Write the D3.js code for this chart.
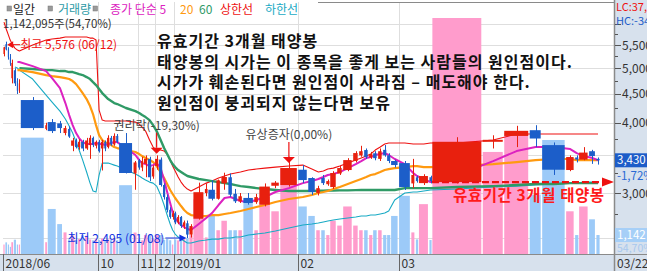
<!DOCTYPE html>
<html><head><meta charset="utf-8">
<script src="https://cdn.jsdelivr.net/npm/d3@7/dist/d3.min.js"></script>
<style>html,body{margin:0;padding:0;background:#fff;overflow:hidden}svg{display:block}</style>
</head><body>
<svg id="chart" width="647" height="271"></svg>
<script>
// ---------- data (estimated) ----------
const dates = ["2018-06-11","2018-06-12","2018-06-14","2018-06-15","2018-06-18","2018-06-19","2018-06-20","2018-06-21","2018-06-22","2018-06-25",
"2018-06-26","2018-06-27","2018-06-28","2018-06-29","2018-07-02","2018-07-03","2018-07-04","2018-07-05","2018-07-06","2018-07-09",
"2018-07-10","2018-07-11","2018-10-01","2018-10-02","2018-10-04","2018-10-05","2018-10-08","2018-10-10","2018-10-11","2018-10-12",
"2018-10-15","2018-11-01","2018-11-05","2018-11-12","2018-11-19","2018-11-26","2018-12-03","2018-12-10","2018-12-14","2018-12-18",
"2018-12-21","2018-12-27","2019-01-02","2019-01-03","2019-01-04","2019-01-07","2019-01-08","2019-01-09","2019-01-10","2019-01-11",
"2019-01-14","2019-01-15","2019-01-16","2019-01-17","2019-01-18","2019-01-21","2019-01-22","2019-01-23","2019-01-24","2019-01-25",
"2019-01-28","2019-02-01","2019-02-07","2019-02-08","2019-02-11","2019-02-12","2019-02-13","2019-02-14","2019-02-15","2019-02-18",
"2019-02-19","2019-02-20","2019-02-21","2019-02-22","2019-02-25","2019-02-26","2019-02-27","2019-02-28","2019-03-04","2019-03-05",
"2019-03-06","2019-03-07","2019-03-08","2019-03-11","2019-03-12","2019-03-13","2019-03-14","2019-03-15","2019-03-18","2019-03-19",
"2019-03-20","2019-03-21","2019-03-22"];
const open  = [5300,5520,5400,5230,4800,4960,4750,4560,4390,3900,4011,3990,3835,3900,3640,3720,3620,3700,3600,3650,3760,3640,3700,3600,3700,3620,3760,3660,3790,3681,
3250,3430,3330,3380,3450,3210,3350,3440,3100,2950,2800,2720,2760,2660,2720,2620,2650,2530,2700,3000,3040,2930,3120,3200,2990,2900,2940,2890,2860,3090,
3099,3300,3190,3000,3190,3110,3074,3250,3296,3420,3500,3577,3470,3530,3450,3580,3500,3420,3391,3120,3200,3124,3200,3137,3700,3790,3880,3650,3296,3470,3440,3560,3450];
const high  = [5460,5576,5450,5300,5180,5000,4800,4780,4444,4000,4061,4030,3950,3940,3760,3750,3740,3730,3760,3800,3780,3720,3730,3730,3720,3800,3790,3830,3820,3835,
3420,3450,3480,3500,3480,3360,3500,3470,3120,2980,2830,2790,2780,2740,2730,2680,2680,2640,3130,3120,3160,3170,3260,3250,3050,3000,3000,2990,3120,3150,
3480,3364,3200,3090,3230,3170,3280,3350,3460,3560,3640,3600,3550,3560,3600,3651,3530,3440,3420,3450,3220,3240,3220,3770,3800,3950,3960,3690,3500,3500,3620,3580,3470];
const low   = [5250,5380,5180,5050,4700,4650,4500,4520,3882,3880,3835,3835,3800,3760,3560,3600,3580,3560,3580,3450,3620,3600,3540,3290,3560,3600,3640,3640,3680,3250,
3040,3300,3280,3200,3150,3180,3300,3080,2920,2770,2700,2690,2640,2640,2600,2590,2495,2500,2690,2960,2910,2920,3040,2950,2880,2880,2860,2870,2840,3060,
3080,3124,2976,2970,3100,3090,3050,3230,3280,3400,3480,3450,3450,3430,3420,3480,3390,3330,3037,3060,3130,3100,3120,3120,3600,3620,3620,3230,3280,3400,3430,3380,3370];
const close = [5450,5400,5230,5100,5110,4700,4560,4700,3914,3960,3866,3914,3914,3780,3720,3620,3700,3600,3720,3760,3650,3700,3560,3700,3600,3760,3660,3790,3700,3256,
3400,3330,3420,3450,3200,3330,3450,3100,2950,2800,2720,2760,2660,2720,2620,2660,2530,2620,3010,3050,2930,3160,3203,2980,2900,2960,2880,2950,3080,3130,
3323,3163,3012,3060,3124,3150,3256,3323,3433,3533,3560,3476,3520,3460,3560,3500,3420,3364,3074,3230,3150,3216,3150,3700,3730,3870,3750,3300,3476,3440,3540,3490,3430];
const volume = [570000,700000,570000,430000,710000,860000,570000,570000,7000000,710000,2710000,1800000,1300000,880000,1120000,830000,900000,1150000,1100000,870000,
820000,910000,850000,930000,800000,880000,840000,900000,830000,4140000,1290000,870000,820000,1140000,1140000,890000,1140000,1140000,850000,900000,
830000,570000,880000,820000,860000,900000,950000,1140000,3290000,1000000,2290000,1430000,2000000,1430000,1430000,1430000,3140000,1430000,3430000,2570000,
5140000,2860000,2290000,1430000,1430000,1140000,2000000,1710000,2860000,1710000,1430000,1430000,1140000,1430000,1430000,1140000,1140000,2290000,3500000,1300000,
880000,3000000,840000,14430000,6140000,7290000,3570000,6860000,2570000,1140000,2860000,2087900,1142095];
const ma5 = [null,null,null,null,null,null,5129,5129,5045,4943,4803,4611,4336,4128,3962,3835,3757,3696,3666,3666,3666,3681,3666,3666,3651,3666,3681,3696,3696,3606,
3505,3433,3391,3377,3350,3363,3391,3322,3163,3012,2879,2775,2708,2664,2632,2610,2589,2578,2642,2708,2764,2856,2939,2951,2927,2903,2891,2915,2951,3012,
3061,3124,3150,3177,3203,3229,3242,3269,3322,3377,3419,3462,3476,3505,3519,3533,3505,3448,3377,3256,3216,3177,3137,3229,3419,3562,3621,3621,3591,3533,3490,3462,3433];
const ma20 = [null,null,null,null,null,null,4963,4963,4923,4863,4843,4823,4803,4784,4745,4687,4611,4517,4408,4283,4145,3962,3803,3726,3696,3666,3651,3621,3606,3577,
3548,3519,3490,3462,3433,3405,3350,3269,3190,3112,3037,2988,2939,2891,2844,2798,2764,2741,2730,2730,2741,2741,2753,2764,2775,2787,2810,2833,2856,2891,
2927,2951,2976,3000,3012,3025,3049,3074,3112,3150,3177,3203,3229,3242,3269,3296,3309,3322,3336,3350,3350,3336,3336,3350,3377,3405,3433,3448,3448,3433,3433,3433,3433];
const ma60 = [null,null,null,null,null,null,null,5004,4984,4963,4963,4943,4943,4923,4923,4902,4882,4863,4823,4784,4725,4668,4592,4517,4462,4408,4372,4336,4319,4249,
4196,4162,4128,4094,4044,3962,3866,3726,3606,3519,3433,3377,3336,3296,3269,3242,3216,3203,3177,3163,3150,3137,3124,3112,3099,3086,3074,3061,3049,3037,
3025,3025,3025,3028,3028,3030,3030,3032,3033,3035,3037,3037,3037,3037,3037,3037,3037,3037,3061,3061,3061,3061,3061,3074,3086,3099,3112,3112,3124,3124,3124,3124,3124];
const upperLine = [6041,5871,5728,5612,5521,5431,5387,5365,5498,5612,5635,5658,5682,5682,5682,5682,5682,5682,5682,5658,5658,5612,4213,4044,4028,4028,4028,4028,4028,4028,
4011,3978,3930,3866,3726,3621,3577,3577,3562,3519,3433,3350,3283,3203,3137,3086,3049,3025,3074,3124,3150,3190,3216,3242,3256,3269,3296,3309,3322,3336,
3350,3363,3309,3269,3283,3309,3322,3350,3391,3433,3462,3490,3519,3577,3621,3666,3681,3681,3681,3666,3666,3666,3681,3681,3726,3819,3819,3819,3819,3819,3819,3819,3819];
const lowerLine = [null,null,null,null,null,5025,5004,4963,4784,4480,4354,4196,4061,3946,3835,3696,3577,3433,3269,3124,3025,3012,3229,3391,3391,3391,3377,3363,3350,3296,
3242,3216,3190,3163,3137,3124,3086,2976,2856,2741,2642,2578,2536,2505,2484,2464,2444,2444,2464,2474,2484,2484,2495,2495,2505,2505,2526,2536,2547,2567,
2599,2632,2642,2653,2664,2675,2686,2697,2708,2719,2730,2730,2741,2741,2753,2764,2787,2915,3000,3012,3012,3025,3037,3049,3074,3086,3099,3112,3124,3124,3137,3137,3137];
const priceTicks = [6000,5500,5000,4500,4000,3500,3000,2500];
const minorTicks = [5750,5250,4750,4250,3750,3250,2750];
const monthKeys   = ["2018-06","2018-10","2018-11","2018-12","2019-01","2019-02","2019-03"];
const monthLabels = ["2018/06","10","11","12","2019/01","02","03"];
const legendItems = ["일간","거래량","종가 단순 5","20","60","상한선","하한선"];
const noteLines = ["유효기간 3개월 태양봉","태양봉의 시가는 이 종목을 좋게 보는 사람들의 원인점이다.","시가가 훼손된다면 원인점이 사라짐 – 매도해야 한다.","원인점이 붕괴되지 않는다면 보유"];
const sunLabel = "유효기간 3개월 태양봉";
const sunDate = "2019-03-11";
const events = [{date:"2018-12-03", label:"권리락(-19,30%)"},{date:"2019-01-28", label:"유상증자(0,00%)"}];
const volAxisMax = 14200000;

// ---------- setup ----------
const svg = d3.select("#chart");
const KR = '"Noto Sans CJK KR","Noto Sans",sans-serif';
const P = {left:3, right:614, top:2, bottom:254, dataEnd:600};
const C = {up:"#e8200e", down:"#1c5ec9", volUp:"#ff9ccc", volDown:"#9ccaf8",
  ma5:"#dc22c0", ma20:"#ff9a10", ma60:"#2f9a66", upper:"#ee1010", lower:"#18aac4",
  grid:"#dedede", panel:"#d7e1ed", axis:"#8a8a8a", text:"#333"};
const n = dates.length;
const cum = []; let acc = 0;
for (let i=0;i<n;i++){ cum.push(acc); acc += volume[i]; }
const x = d3.scaleLinear().domain([0,acc]).range([P.left, P.dataEnd]);
const y = d3.scaleLog().domain([3000,5500]).range([193,45]);
const yV = d3.scaleLinear().domain([0,volAxisMax]).range([P.bottom,18]).clamp(true);
const x0 = i => x(cum[i]), x1 = i => x(cum[i]+volume[i]), xc = i => (x0(i)+x1(i))/2;
const bodyW = i => { const w = x1(i)-x0(i); return w>4 ? w-1.5 : Math.max(1.2, w-0.8); };
const idx = d3.range(n);
const fmt = d3.format(",");
const L = n-1;

svg.append("rect").attr("width",647).attr("height",271).attr("fill","#fff");
const defs = svg.append("defs");
defs.append("clipPath").attr("id","pc").append("rect")
  .attr("x",P.left).attr("y",P.top).attr("width",P.right-P.left).attr("height",P.bottom-P.top);

// gridlines
const g = svg.append("g");
g.selectAll(".hg").data(priceTicks).join("line")
  .attr("x1",P.left).attr("x2",P.right).attr("y1",d=>Math.round(y(d))+0.5).attr("y2",d=>Math.round(y(d))+0.5)
  .attr("stroke",C.grid);
const monthIdx = monthKeys.map(k => dates.findIndex(d => d.startsWith(k)));
g.selectAll(".vg").data(monthIdx.slice(1)).join("line")
  .attr("x1",i=>Math.round(x0(i))+0.5).attr("x2",i=>Math.round(x0(i))+0.5).attr("y1",P.top).attr("y2",P.bottom)
  .attr("stroke",C.grid);

const plot = svg.append("g").attr("clip-path","url(#pc)");
// volume bars
plot.selectAll(".vb").data(idx).join("rect")
  .attr("x",i=>x0(i)+0.4).attr("width",bodyW)
  .attr("y",i=>yV(volume[i])).attr("height",i=>P.bottom-yV(volume[i]))
  .attr("fill",i=>close[i]>=open[i]?C.volUp:C.volDown);

// lines
function drawLine(arr,color,w){
  const ln = d3.line().defined(i=>arr[i]!=null).x(xc).y(i=>y(arr[i]));
  plot.append("path").attr("d",ln(idx)).attr("fill","none").attr("stroke",color).attr("stroke-width",w).attr("stroke-linejoin","round");
}
drawLine(lowerLine,C.lower,1.1);
drawLine(upperLine,C.upper,1.1);
drawLine(ma60,C.ma60,2.4);
drawLine(ma20,C.ma20,2.2);
drawLine(ma5,C.ma5,2);

// candles
const cg = plot.append("g");
cg.selectAll(".wk").data(idx).join("line")
  .attr("x1",i=>Math.round(xc(i))+0.5).attr("x2",i=>Math.round(xc(i))+0.5)
  .attr("y1",i=>y(high[i])).attr("y2",i=>y(low[i]))
  .attr("stroke",i=>close[i]>=open[i]?C.up:C.down).attr("stroke-width",1);
cg.selectAll(".bd").data(idx).join("rect")
  .attr("x",i=>x0(i)+0.4).attr("width",bodyW)
  .attr("y",i=>y(Math.max(open[i],close[i])))
  .attr("height",i=>Math.max(1.2, y(Math.min(open[i],close[i]))-y(Math.max(open[i],close[i]))))
  .attr("fill",i=>close[i]>=open[i]?C.up:C.down);

// sun candle dashed line + arrow
const si = dates.indexOf(sunDate);
const sy = y(open[si]);
svg.append("line").attr("x1",x0(si)).attr("x2",P.right-10).attr("y1",sy).attr("y2",sy)
  .attr("stroke","#ee1111").attr("stroke-width",2.4).attr("stroke-dasharray","7,3");
svg.append("path").attr("d",`M${P.right-12},${sy-4.5}L${P.right},${sy}L${P.right-12},${sy+4.5}Z`).attr("fill","#ee1111");
svg.append("text").attr("x",453).attr("y",sy+19).text(sunLabel)
  .attr("font-family",KR).attr("font-weight",700).attr("font-size",15.5).attr("letter-spacing",0.6).attr("fill","#ff1a1a");

// high / low markers
const hi = d3.maxIndex(high), lo = d3.minIndex(low);
const hy = y(high[hi])+3;
svg.append("line").attr("x1",xc(hi)+14).attr("x2",xc(hi)+5).attr("y1",hy).attr("y2",hy).attr("stroke","#ee1111");
svg.append("path").attr("d",`M${xc(hi)+1},${hy}L${xc(hi)+7},${hy-3.5}L${xc(hi)+7},${hy+3.5}Z`).attr("fill","#ee1111");
const md = s => s.slice(5,7)+"/"+s.slice(8,10);
svg.append("text").attr("x",xc(hi)+14).attr("y",hy+4.5)
  .text(`최고 ${fmt(high[hi])} (${md(dates[hi])})`).attr("font-family",KR).attr("font-size",12).attr("fill","#ee1111");
const ly = y(low[lo]);
svg.append("line").attr("x1",xc(lo)-22).attr("x2",xc(lo)-6).attr("y1",ly).attr("y2",ly).attr("stroke","#1030e0");
svg.append("path").attr("d",`M${xc(lo)-1},${ly}L${xc(lo)-8},${ly-3.5}L${xc(lo)-8},${ly+3.5}Z`).attr("fill","#1030e0");
svg.append("text").attr("x",xc(lo)-23).attr("y",ly+4.5).attr("text-anchor","end")
  .text(`최저 ${fmt(low[lo])} (${md(dates[lo])})`).attr("font-family",KR).attr("font-size",12).attr("fill","#1030e0");

// event arrows
events.forEach(ev=>{
  const i = dates.indexOf(ev.date);
  const cx = xc(i), tip = y(Math.max(open[i],close[i]))-5;
  svg.append("line").attr("x1",cx).attr("x2",cx).attr("y1",tip-21).attr("y2",tip-6).attr("stroke","#ee1111").attr("stroke-width",1.2);
  svg.append("path").attr("d",`M${cx-6},${tip-6}L${cx+6},${tip-6}L${cx},${tip}Z`).attr("fill","#ee1111");
  svg.append("text").attr("x",cx).attr("y",tip-24).attr("text-anchor","middle").text(ev.label)
    .attr("font-family",KR).attr("font-size",12).attr("fill","#444");
});

// note text
svg.selectAll(".note").data(noteLines).join("text")
  .attr("x",157).attr("y",(d,k)=>47+k*20.7).text(d=>d)
  .attr("font-family",KR).attr("font-weight",700).attr("font-size",16).attr("letter-spacing",1).attr("fill","#111");

// frame
svg.append("line").attr("x1",318).attr("x2",P.right).attr("y1",2.5).attr("y2",2.5).attr("stroke",C.axis);

// right panel
svg.append("rect").attr("x",P.right+1).attr("y",0).attr("width",647-P.right-1).attr("height",271).attr("fill",C.panel);
svg.append("rect").attr("x",0).attr("y",P.bottom).attr("width",647).attr("height",271-P.bottom).attr("fill",C.panel);
svg.append("line").attr("x1",P.right+0.5).attr("x2",P.right+0.5).attr("y1",0).attr("y2",271).attr("stroke",C.axis).attr("stroke-width",1.5);
svg.append("line").attr("x1",0).attr("x2",647).attr("y1",P.bottom+0.5).attr("y2",P.bottom+0.5).attr("stroke",C.axis).attr("stroke-width",1.2);

svg.selectAll(".tk").data(priceTicks).join("line")
  .attr("x1",P.right+1).attr("x2",P.right+7).attr("y1",d=>Math.round(y(d))+0.5).attr("y2",d=>Math.round(y(d))+0.5).attr("stroke","#555");
svg.selectAll(".mtk").data(minorTicks).join("line")
  .attr("x1",P.right+1).attr("x2",P.right+4).attr("y1",d=>Math.round(y(d))+0.5).attr("y2",d=>Math.round(y(d))+0.5).attr("stroke","#555");

// last price / volume tag positions, used to hide covered tick labels
const py = y(close[L]);
const vy = yV(volume[L]);
svg.selectAll(".tl").data(priceTicks.filter(d=>y(d)>35 && Math.abs(y(d)-py)>12 && Math.abs(y(d)-vy)>14)).join("text")
  .attr("x",P.right+8).attr("y",d=>y(d)+4.5).text(d=>fmt(d))
  .attr("font-family",KR).attr("font-size",12).attr("fill",C.text);

svg.append("rect").attr("x",P.right+1).attr("y",py-7).attr("width",40).attr("height",14).attr("fill","#1d5cc8");
svg.append("text").attr("x",P.right+3).attr("y",py+4).text(fmt(close[L])).attr("font-family",KR).attr("font-size",11.5).attr("fill","#fff");
const chg = (close[L]/close[L-1]-1)*100;
svg.append("text").attr("x",P.right+3).attr("y",py+20).text(chg.toFixed(2).replace(".",",")+"%")
  .attr("font-family",KR).attr("font-size",11.5).attr("fill","#2a6ad4");
svg.append("rect").attr("x",P.right+1).attr("y",vy-7).attr("width",40).attr("height",14).attr("fill","#a6cff7");
svg.append("text").attr("x",P.right+3).attr("y",vy+4).text(fmt(Math.round(volume[L]/1000))).attr("font-family",KR).attr("font-size",11.5).attr("fill","#fff");
const vr = (volume[L]/volume[L-1]*100).toFixed(2).replace(".",",")+"%";
svg.append("text").attr("x",P.right+3).attr("y",vy+16.5).text(vr).attr("font-family",KR).attr("font-size",10.5).attr("fill","#a8c8ee");

svg.append("text").attr("x",P.right+2).attr("y",11).text("LC:37,9%").attr("font-family",KR).attr("font-size",11).attr("fill","#ee1111");
svg.append("text").attr("x",P.right+2).attr("y",25).text("HC:-34,2%").attr("font-family",KR).attr("font-size",11).attr("fill","#1d5cc8");

// bottom date axis
monthIdx.forEach((i,k)=>{
  const xx = Math.round(x0(i))+0.5;
  svg.append("line").attr("x1",xx).attr("x2",xx).attr("y1",P.bottom).attr("y2",271).attr("stroke","#666");
  svg.append("text").attr("x",xx+2).attr("y",267.5).text(monthLabels[k]).attr("font-family",KR).attr("font-size",12).attr("fill",C.text);
});
svg.append("text").attr("x",P.right+3).attr("y",267.5).text(md(dates[L])).attr("font-family",KR).attr("font-size",12).attr("fill",C.text);

// legend
const legColors = ["#222","#2b9aa6",C.ma5,C.ma20,C.ma60,"#ee1111",C.lower];
const legX = [13,58,110,180,199,220,265];
legendItems.forEach((t,k)=>{
  svg.append("text").attr("x",legX[k]).attr("y",14).text(t).attr("font-family",KR).attr("font-size",12).attr("fill",legColors[k]);
});
[7,48,93].forEach(xx=>svg.append("rect").attr("x",xx).attr("y",6).attr("width",4.5).attr("height",5).attr("fill","#9a9a9a").attr("stroke","#777").attr("stroke-width",0.5));
svg.append("text").attr("x",3).attr("y",28).text(`${fmt(volume[L])}주(${vr})`).attr("font-family",KR).attr("font-size",11.5).attr("fill",C.text);
</script>
</body></html>
